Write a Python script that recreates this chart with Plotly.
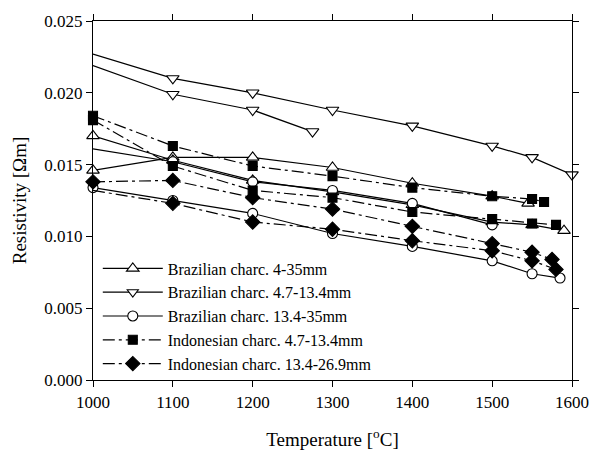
import plotly.graph_objects as go

# ---- data ----
br_4_35_run1_x = [1000, 1100, 1200, 1300, 1400, 1500, 1545]
br_4_35_run1_y = [0.0146, 0.0155, 0.0155, 0.0148, 0.0137, 0.0128, 0.0123]
br_4_35_run2_x = [1000, 1100, 1200, 1300, 1400, 1500, 1550, 1590]
br_4_35_run2_y = [0.0170, 0.0153, 0.0139, 0.0131, 0.0122, 0.0110, 0.0108, 0.0104]

br_47_run1_x = [1000, 1100, 1200, 1300, 1400, 1500, 1550, 1600]
br_47_run1_y = [0.0227, 0.0210, 0.0200, 0.0188, 0.0177, 0.0163, 0.0155, 0.0143]
br_47_run2_x = [1000, 1100, 1200, 1275]
br_47_run2_y = [0.0219, 0.0199, 0.0188, 0.0173]

br_134_run1_x = [1000, 1100, 1200, 1300, 1400, 1500, 1550, 1585]
br_134_run1_y = [0.0134, 0.0125, 0.0116, 0.0102, 0.0093, 0.0083, 0.0074, 0.0071]
br_134_run2_x = [1000, 1100, 1200, 1300, 1400, 1500]
br_134_run2_y = [0.0161, 0.0152, 0.0138, 0.0132, 0.0123, 0.0108]

in_47_run1_x = [1000, 1100, 1200, 1300, 1400, 1500, 1550, 1565]
in_47_run1_y = [0.0184, 0.0163, 0.0149, 0.0142, 0.0134, 0.0128, 0.0126, 0.0124]
in_47_run2_x = [1000, 1100, 1200, 1300, 1400, 1500, 1550, 1580]
in_47_run2_y = [0.0181, 0.0149, 0.0132, 0.0127, 0.0117, 0.0112, 0.0109, 0.0108]

in_134_run1_x = [1000, 1100, 1200, 1300, 1400, 1500, 1550, 1575]
in_134_run1_y = [0.0138, 0.0139, 0.0127, 0.0119, 0.0107, 0.0095, 0.0089, 0.0084]
in_134_run2_x = [1000, 1100, 1200, 1300, 1400, 1500, 1550, 1580]
in_134_run2_y = [0.0132, 0.0123, 0.0110, 0.0105, 0.0097, 0.0090, 0.0083, 0.0077]

x_ticks = [1000, 1100, 1200, 1300, 1400, 1500, 1600]
y_ticks = [0.000, 0.005, 0.010, 0.015, 0.020, 0.025]

FONT = "Liberation Serif"
DASHDOT = "12px,4px,3px,4px"


def sizes(xs, s, hide_first):
    return [0 if (hide_first and i == 0) else s for i in range(len(xs))]


fig = go.Figure()


def add(xs, ys, name, symbol, fill, dash, s, legend, hide_first=False):
    fig.add_trace(go.Scatter(
        x=xs, y=ys, mode="lines+markers", name=name,
        legendgroup=name, showlegend=legend,
        line=dict(color="black", width=1.2, dash=dash),
        marker=dict(symbol=symbol, size=sizes(xs, s, hide_first), color=fill,
                    opacity=1, line=dict(color="black", width=1.1)),
        cliponaxis=False,
    ))


add(br_4_35_run1_x, br_4_35_run1_y, "Brazilian charc. 4-35mm", "triangle-up", "white", "solid", 11, True)
add(br_4_35_run2_x, br_4_35_run2_y, "Brazilian charc. 4-35mm", "triangle-up", "white", "solid", 11, False)
add(br_47_run1_x, br_47_run1_y, "Brazilian charc. 4.7-13.4mm", "triangle-down", "white", "solid", 11, True, True)
add(br_47_run2_x, br_47_run2_y, "Brazilian charc. 4.7-13.4mm", "triangle-down", "white", "solid", 11, False, True)
add(br_134_run1_x, br_134_run1_y, "Brazilian charc. 13.4-35mm", "circle", "white", "solid", 10, True)
add(br_134_run2_x, br_134_run2_y, "Brazilian charc. 13.4-35mm", "circle", "white", "solid", 10, False, True)
add(in_47_run1_x, in_47_run1_y, "Indonesian charc. 4.7-13.4mm", "square", "black", DASHDOT, 9, True)
add(in_47_run2_x, in_47_run2_y, "Indonesian charc. 4.7-13.4mm", "square", "black", DASHDOT, 9, False)
add(in_134_run1_x, in_134_run1_y, "Indonesian charc. 13.4-26.9mm", "diamond", "black", DASHDOT, 11, True)
add(in_134_run2_x, in_134_run2_y, "Indonesian charc. 13.4-26.9mm", "diamond", "black", DASHDOT, 11, False, True)

axis_common = dict(
    showline=True, linecolor="black", linewidth=1.2, mirror="ticks",
    ticks="outside", ticklen=6, tickwidth=1.2, tickcolor="black",
    showgrid=False, zeroline=False,
    tickfont=dict(family=FONT, size=17, color="black"),
)

fig.update_xaxes(range=[1000, 1600], tickvals=x_ticks,
                 ticktext=[str(v) for v in x_ticks],
                 title=dict(text="Temperature [<sup>o</sup>C]", standoff=22,
                            font=dict(family=FONT, size=19, color="black")),
                 **axis_common)
fig.update_yaxes(range=[0, 0.025], tickvals=y_ticks,
                 ticktext=[f"{v:.3f}" for v in y_ticks],
                 title=dict(text="Resistivity [Ωm]", standoff=12,
                            font=dict(family=FONT, size=19, color="black")),
                 **axis_common)

fig.update_layout(
    width=601, height=459,
    margin=dict(l=93, r=20, t=18, b=79),
    paper_bgcolor="white", plot_bgcolor="white",
    font=dict(family=FONT, color="black"),
    legend=dict(x=0.01, y=0.358, xanchor="left", yanchor="top",
                bgcolor="rgba(0,0,0,0)", borderwidth=0,
                font=dict(family=FONT, size=16, color="black"),
                itemwidth=60, tracegroupgap=0),
)

fig.write_html("out.html")
